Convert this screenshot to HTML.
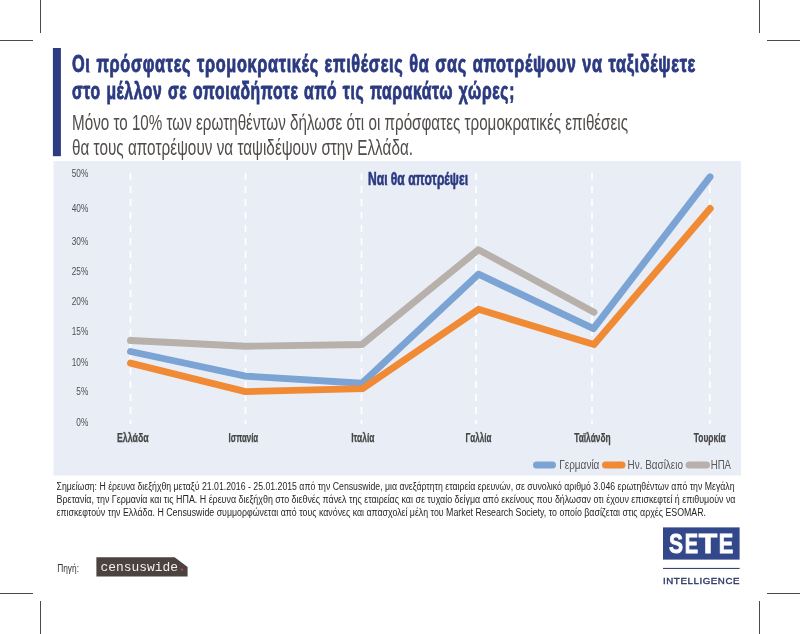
<!DOCTYPE html>
<html><head><meta charset="utf-8">
<style>
html,body{margin:0;padding:0;background:#fff;width:800px;height:634px;overflow:hidden}
svg{display:block;will-change:transform}
text{font-family:"Liberation Sans",sans-serif}
</style></head>
<body>
<svg width="800" height="634" viewBox="0 0 800 634">
<!-- crop marks -->
<g stroke="#4a4a4a" stroke-width="1">
<line x1="40.5" y1="0" x2="40.5" y2="33"/><line x1="0" y1="40.5" x2="33" y2="40.5"/>
<line x1="759.5" y1="0" x2="759.5" y2="33"/><line x1="767" y1="40.5" x2="800" y2="40.5"/>
<line x1="0" y1="593.5" x2="33" y2="593.5"/><line x1="40.5" y1="601" x2="40.5" y2="634"/>
<line x1="767" y1="593.5" x2="800" y2="593.5"/><line x1="759.5" y1="601" x2="759.5" y2="634"/>
</g>
<!-- title bar -->
<rect x="52.9" y="48" width="8" height="108.2" fill="#2c3b82"/>
<g fill="#2b3a80" stroke="#2b3a80" stroke-width="0.9" font-weight="bold" font-size="24.5" letter-spacing="1" word-spacing="1">
<text x="72" y="72" textLength="624" lengthAdjust="spacingAndGlyphs">Οι πρόσφατες τρομοκρατικές επιθέσεις θα σας αποτρέψουν να ταξιδέψετε</text>
<text x="72" y="99" textLength="443" lengthAdjust="spacingAndGlyphs">στο μέλλον σε οποιαδήποτε από τις παρακάτω χώρες;</text>
</g>
<g fill="#504c4a" font-size="22.5">
<text x="72" y="130" textLength="556" lengthAdjust="spacingAndGlyphs">Μόνο το 10% των ερωτηθέντων δήλωσε ότι οι πρόσφατες τρομοκρατικές επιθέσεις</text>
<text x="72" y="154.5" textLength="341" lengthAdjust="spacingAndGlyphs">θα τους αποτρέψουν να ταψιδέψουν στην Ελλάδα.</text>
</g>
<!-- chart bg -->
<rect x="53.5" y="161" width="687.5" height="314.5" fill="#e9edf6"/>
<!-- dashed verticals -->
<g stroke="#ffffff" stroke-width="1.6" stroke-dasharray="7 6">
<line x1="130.5" y1="173" x2="130.5" y2="424"/>
<line x1="245.5" y1="173" x2="245.5" y2="424"/>
<line x1="361.5" y1="173" x2="361.5" y2="424"/>
<line x1="476" y1="173" x2="476" y2="424"/>
<line x1="592" y1="173" x2="592" y2="424"/>
<line x1="709.8" y1="173" x2="709.8" y2="424"/>
</g>
<!-- y labels -->
<g fill="#505050" font-size="11.2" text-anchor="end" transform="translate(88.3,0) scale(0.74,1)">
<text x="0" y="177.2">50%</text>
<text x="0" y="212.3">40%</text>
<text x="0" y="245.4">30%</text>
<text x="0" y="275.5">25%</text>
<text x="0" y="305.5">20%</text>
<text x="0" y="335.3">15%</text>
<text x="0" y="365.7">10%</text>
<text x="0" y="395.5">5%</text>
<text x="0" y="426.4">0%</text>
</g>
<!-- x labels -->
<g fill="#454545" stroke="#454545" stroke-width="0.25" font-size="13.6" font-weight="bold">
<text x="117" y="441.7" textLength="31.7" lengthAdjust="spacingAndGlyphs">Ελλάδα</text>
<text x="228.6" y="441.7" textLength="29.6" lengthAdjust="spacingAndGlyphs">Ισπανία</text>
<text x="351.2" y="441.7" textLength="23.3" lengthAdjust="spacingAndGlyphs">Ιταλία</text>
<text x="465.5" y="441.7" textLength="25.9" lengthAdjust="spacingAndGlyphs">Γαλλία</text>
<text x="574.2" y="441.7" textLength="36.4" lengthAdjust="spacingAndGlyphs">Ταϊλάνδη</text>
<text x="693.8" y="441.7" textLength="31.9" lengthAdjust="spacingAndGlyphs">Τουρκία</text>
</g>
<!-- legend label -->
<text x="368" y="185" fill="#2b3a80" stroke="#2b3a80" stroke-width="0.6" font-size="17.5" font-weight="bold" textLength="100" lengthAdjust="spacingAndGlyphs">Ναι θα αποτρέψει</text>
<!-- lines -->
<g fill="none" stroke-width="6.9" stroke-linecap="round" stroke-linejoin="round">
<polyline stroke="#b8b0ab" points="130.5,340.5 245.5,346.3 362,344.5 478.5,249.7 594,312.2"/>
<polyline stroke="#7ba3d3" points="130.5,351.5 245.5,376.1 362,383.3 478.5,274.2 593.5,328.6 710,176.8"/>
<polyline stroke="#f08a35" points="130.5,363.1 245.5,391.6 362.5,388.6 478.5,309.3 594,344.5 710.2,208.5"/>
</g>
<!-- legend -->
<g stroke-width="7" stroke-linecap="round">
<line x1="536.5" y1="465" x2="552.5" y2="465" stroke="#7ba3d3"/>
<line x1="605.5" y1="465" x2="622" y2="465" stroke="#f08a35"/>
<line x1="689" y1="465" x2="706.5" y2="465" stroke="#b8b0ab"/>
</g>
<g fill="#585858" font-size="12">
<text x="559.2" y="468.5" textLength="40.2" lengthAdjust="spacingAndGlyphs">Γερμανία</text>
<text x="627.5" y="468.5" textLength="55.5" lengthAdjust="spacingAndGlyphs">Ην. Βασίλειο</text>
<text x="710.7" y="468.5" textLength="20.3" lengthAdjust="spacingAndGlyphs">ΗΠΑ</text>
</g>
<!-- footnote -->
<g fill="#262626" font-size="10">
<text x="56.5" y="490" textLength="678" lengthAdjust="spacingAndGlyphs">Σημείωση: Η έρευνα διεξήχθη μεταξύ 21.01.2016 - 25.01.2015 από την Censuswide, μια ανεξάρτητη εταιρεία ερευνών, σε συνολικό αριθμό 3.046 ερωτηθέντων από την Μεγάλη</text>
<text x="56.5" y="503" textLength="679" lengthAdjust="spacingAndGlyphs">Βρετανία, την Γερμανία και τις ΗΠΑ. Η έρευνα διεξήχθη στο διεθνές πάνελ της εταιρείας και σε τυχαίο δείγμα από εκείνους που δήλωσαν οτι έχουν επισκεφτεί ή επιθυμούν να</text>
<text x="56.5" y="516" textLength="649.5" lengthAdjust="spacingAndGlyphs">επισκεφτούν την Ελλάδα. Η Censuswide συμμορφώνεται από τους κανόνες και απασχολεί μέλη του Market Research Society, το οποίο βασίζεται στις αρχές ESOMAR.</text>
</g>
<!-- source -->
<text x="57.2" y="572" fill="#333" font-size="10.4" textLength="21.8" lengthAdjust="spacingAndGlyphs">Πηγή:</text>
<path d="M96.4,557.3 H174.6 L187.6,567 V576.6 H96.4 Z" fill="#4a4340"/>
<text x="100.4" y="571" fill="#f4f0ec" font-family="Liberation Mono" font-size="13" textLength="77.6" lengthAdjust="spacingAndGlyphs" style="font-family:'Liberation Mono',monospace">censuswide</text>
<circle cx="182" cy="569.6" r="1.2" fill="#d23a4a"/>
<!-- SETE logo -->
<rect x="663" y="527.4" width="76.6" height="32.2" fill="#33478b"/>
<g fill="#fff" stroke="#fff" stroke-width="0.9" font-size="27.3" font-weight="bold">
<text transform="translate(669.09,553) scale(0.7705149608321562,1)" x="0" y="0">S</text>
<text transform="translate(684.76,553) scale(0.7312948489419077,1)" x="0" y="0">E</text>
<text transform="translate(698.87,553) scale(1.1069858268500035,1)" x="0" y="0">T</text>
<text transform="translate(718.84,553) scale(0.7965890318831493,1)" x="0" y="0">E</text>
</g>
<rect x="663" y="567.9" width="76.6" height="1.1" fill="#3b4672"/>
<text x="663" y="584" fill="#2f3a68" stroke="#2f3a68" stroke-width="0.4" font-size="9.7" textLength="76.5" lengthAdjust="spacing">INTELLIGENCE</text>
</svg>
</body></html>
